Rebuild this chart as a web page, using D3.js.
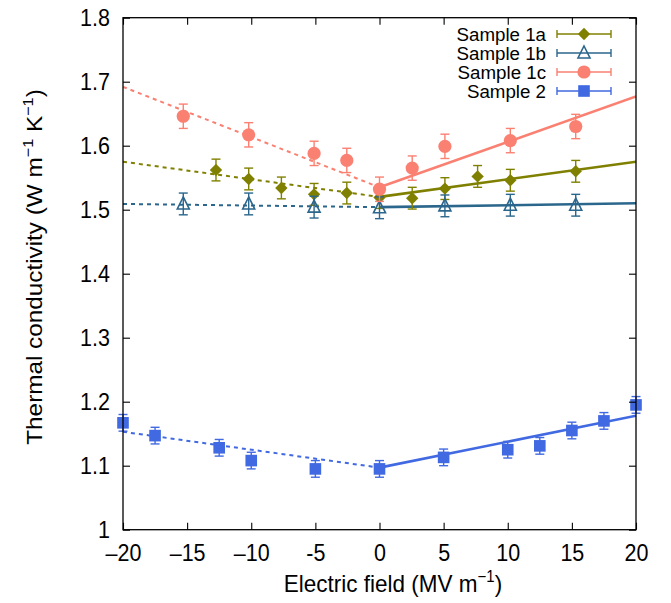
<!DOCTYPE html>
<html><head><meta charset="utf-8">
<script src="https://cdn.jsdelivr.net/npm/d3@7"></script>
<style>body{margin:0;background:#fff} svg{display:block}</style>
</head><body>
<svg id="chart" width="671" height="603"></svg>
<script>
// ---------- data ----------
const xTicks = [-20, -15, -10, -5, 0, 5, 10, 15, 20];
const xTickLabels = ["\u201320", "\u201315", "\u201310", "-5", "0", "5", "10", "15", "20"];
const yTicks = [1, 1.1, 1.2, 1.3, 1.4, 1.5, 1.6, 1.7, 1.8];
const yTickLabels = ["1", "1.1", "1.2", "1.3", "1.4", "1.5", "1.6", "1.7", "1.8"];

const seriesNames = ["Sample 1a", "Sample 1b", "Sample 1c", "Sample 2"];

const s1aX = [-12.75, -10.2, -7.65, -5.1, -2.55, 0, 2.55, 5.1, 7.65, 10.2, 15.3];
const s1aY = [1.562, 1.548, 1.534, 1.524, 1.526, 1.519, 1.518, 1.533, 1.552, 1.546, 1.560];
const s1aErr = [0.017, 0.017, 0.017, 0.017, 0.017, 0.017, 0.017, 0.017, 0.017, 0.017, 0.017];

const s1bX = [-15.3, -10.2, -5.1, 0, 5.1, 10.2, 15.3];
const s1bY = [1.509, 1.509, 1.504, 1.503, 1.506, 1.507, 1.507];
const s1bErr = [0.017, 0.017, 0.017, 0.017, 0.017, 0.017, 0.017];

const s1cX = [-15.3, -10.2, -5.1, -2.55, 0, 2.55, 5.1, 10.2, 15.3];
const s1cY = [1.646, 1.617, 1.588, 1.577, 1.532, 1.565, 1.599, 1.608, 1.630];
const s1cErr = [0.019, 0.019, 0.019, 0.019, 0.019, 0.019, 0.019, 0.019, 0.019];

const s2X = [-20, -17.5, -12.5, -10, -5, 0, 5, 10, 12.5, 15, 17.5, 20];
const s2Y = [1.167, 1.147, 1.128, 1.108, 1.095, 1.095, 1.113, 1.125, 1.131, 1.155, 1.170, 1.195];
const s2Err = [0.013, 0.013, 0.013, 0.013, 0.013, 0.013, 0.013, 0.013, 0.013, 0.013, 0.013, 0.013];

// linear fits: values at x = -20, 0, 20 (dashed for E<0, solid for E>0)
const fitX = [-20, 0, 20];
const fit1a = [1.575, 1.520, 1.575];
const fit1b = [1.509, 1.504, 1.510];
const fit1c = [1.692, 1.535, 1.677];
const fit2  = [1.153, 1.097, 1.178];

// ---------- drawing ----------
const FONT = "'Liberation Sans', Arial, Helvetica, sans-serif";
const svg = d3.select("#chart");
const L = 123, R = 636, T = 17.7, B = 529.7;
const x = d3.scaleLinear().domain([-20, 20]).range([L, R]);
const y = d3.scaleLinear().domain([1, 1.8]).range([B, T]);

const series = [
  {name: seriesNames[0], xs: s1aX, ys: s1aY, es: s1aErr, fit: fit1a, color: "#808000", shape: "diamond"},
  {name: seriesNames[1], xs: s1bX, ys: s1bY, es: s1bErr, fit: fit1b, color: "#2b668c", shape: "triangle"},
  {name: seriesNames[2], xs: s1cX, ys: s1cY, es: s1cErr, fit: fit1c, color: "#fa8072", shape: "circle"},
  {name: seriesNames[3], xs: s2X, ys: s2Y, es: s2Err, fit: fit2, color: "#4169e1", shape: "square"}
];

svg.append("defs").append("clipPath").attr("id", "plotclip")
  .append("rect").attr("x", L).attr("y", T).attr("width", R - L).attr("height", B - T);

// fit lines
const lineGen = d3.line().x(d => x(d[0])).y(d => y(d[1]));
const fitG = svg.append("g").attr("clip-path", "url(#plotclip)");
series.forEach(s => {
  fitG.append("path")
    .attr("d", lineGen([[fitX[0], s.fit[0]], [fitX[1], s.fit[1]]]))
    .attr("fill", "none").attr("stroke", s.color).attr("stroke-width", 2)
    .attr("stroke-dasharray", "4,4");
  fitG.append("path")
    .attr("d", lineGen([[fitX[1], s.fit[1]], [fitX[2], s.fit[2]]]))
    .attr("fill", "none").attr("stroke", s.color).attr("stroke-width", 2.6);
});

function drawMarker(g, shape, color, cx, cy) {
  if (shape === "diamond") {
    const h = 6.2;
    g.append("path").attr("d", `M${cx},${cy - h}L${cx + h},${cy}L${cx},${cy + h}L${cx - h},${cy}Z`)
      .attr("fill", color);
  } else if (shape === "triangle") {
    const w = 6, hUp = 7, hDn = 5;
    g.append("path").attr("d", `M${cx},${cy - hUp}L${cx + w},${cy + hDn}L${cx - w},${cy + hDn}Z`)
      .attr("fill", "none").attr("stroke", color).attr("stroke-width", 1.6);
  } else if (shape === "circle") {
    g.append("circle").attr("cx", cx).attr("cy", cy).attr("r", 6.6).attr("fill", color);
  } else {
    const a = 5.8;
    g.append("rect").attr("x", cx - a).attr("y", cy - a).attr("width", 2 * a).attr("height", 2 * a)
      .attr("fill", color);
  }
}

// error bars + markers
series.forEach(s => {
  const g = svg.append("g");
  s.xs.forEach((xv, i) => {
    const cx = x(xv), y0 = y(s.ys[i] - s.es[i]), y1 = y(s.ys[i] + s.es[i]);
    g.append("line").attr("x1", cx).attr("x2", cx).attr("y1", y0).attr("y2", y1)
      .attr("stroke", s.color).attr("stroke-width", 1.4);
    [y0, y1].forEach(yy => g.append("line").attr("x1", cx - 4.5).attr("x2", cx + 4.5)
      .attr("y1", yy).attr("y2", yy).attr("stroke", s.color).attr("stroke-width", 1.4));
  });
  s.xs.forEach((xv, i) => drawMarker(g, s.shape, s.color, x(xv), y(s.ys[i])));
});

// frame
svg.append("rect").attr("x", L).attr("y", T).attr("width", R - L).attr("height", B - T)
  .attr("fill", "none").attr("stroke", "#000").attr("stroke-width", 1.3);

// axes (inward ticks on all four sides)
const tickLen = 7;
const axB = d3.axisBottom(x).tickValues(xTicks).tickSize(-tickLen).tickFormat((d, i) => xTickLabels[i]);
const axT = d3.axisTop(x).tickValues(xTicks).tickSize(-tickLen).tickFormat("");
const axL = d3.axisLeft(y).tickValues(yTicks).tickSize(-tickLen).tickFormat((d, i) => yTickLabels[i]);
const axR = d3.axisRight(y).tickValues(yTicks).tickSize(-tickLen).tickFormat("");

function styleAxis(g) {
  g.select(".domain").remove();
  g.selectAll(".tick line").attr("stroke", "#000").attr("stroke-width", 1.1);
  g.selectAll(".tick text").attr("fill", "#000").style("font-family", FONT).style("font-size", "21.5px");
}
const gB = svg.append("g").attr("transform", `translate(0,${B})`).call(axB).call(styleAxis);
gB.selectAll(".tick text").attr("y", 0).attr("dy", null).attr("transform", "translate(0,31) scale(1,1.08)");
svg.append("g").attr("transform", `translate(0,${T})`).call(axT).call(styleAxis);
const gL = svg.append("g").attr("transform", `translate(${L},0)`).call(axL).call(styleAxis);
gL.selectAll(".tick text").attr("x", 0).attr("dy", null).attr("y", 0)
  .attr("transform", "translate(-13,8) scale(1,1.08)");
svg.append("g").attr("transform", `translate(${R},0)`).call(axR).call(styleAxis);

// axis titles
const xt = svg.append("text").attr("text-anchor", "middle")
  .attr("transform", "translate(393,592) scale(1,1.08)")
  .style("font-family", FONT).style("font-size", "22.5px").attr("fill", "#000");
xt.append("tspan").text("Electric field (MV m");
xt.append("tspan").text("\u22121").attr("dy", -9).style("font-size", "15px");
xt.append("tspan").text(")").attr("dy", 9);

const yt = svg.append("text").attr("text-anchor", "middle")
  .attr("transform", "translate(42,267) rotate(-90) scale(1.08,1)")
  .style("font-family", FONT).style("font-size", "22.5px").attr("fill", "#000");
yt.append("tspan").text("Thermal conductivity (W m");
yt.append("tspan").text("\u22121").attr("dy", -9).style("font-size", "15px");
yt.append("tspan").text(" K").attr("dy", 9);
yt.append("tspan").text("\u22121").attr("dy", -9).style("font-size", "15px");
yt.append("tspan").text(")").attr("dy", 9);

// legend
const legTextX = 546, legX0 = 557, legX1 = 611, legMid = 584;
const legRows = [34, 53, 72, 91];
series.forEach((s, i) => {
  const cy = legRows[i];
  const g = svg.append("g");
  g.append("text").attr("text-anchor", "end")
    .attr("transform", `translate(${legTextX},${cy + 6.5}) scale(1.07,1.0)`)
    .style("font-family", FONT).style("font-size", "17.5px").attr("fill", "#000").text(s.name);
  g.append("line").attr("x1", legX0).attr("x2", legX1).attr("y1", cy).attr("y2", cy)
    .attr("stroke", s.color).attr("stroke-width", 1.4);
  [legX0, legX1].forEach(xx => g.append("line").attr("x1", xx).attr("x2", xx)
    .attr("y1", cy - 4).attr("y2", cy + 4).attr("stroke", s.color).attr("stroke-width", 1.4));
  drawMarker(g, s.shape, s.color, legMid, cy);
});
</script>
</body></html>
